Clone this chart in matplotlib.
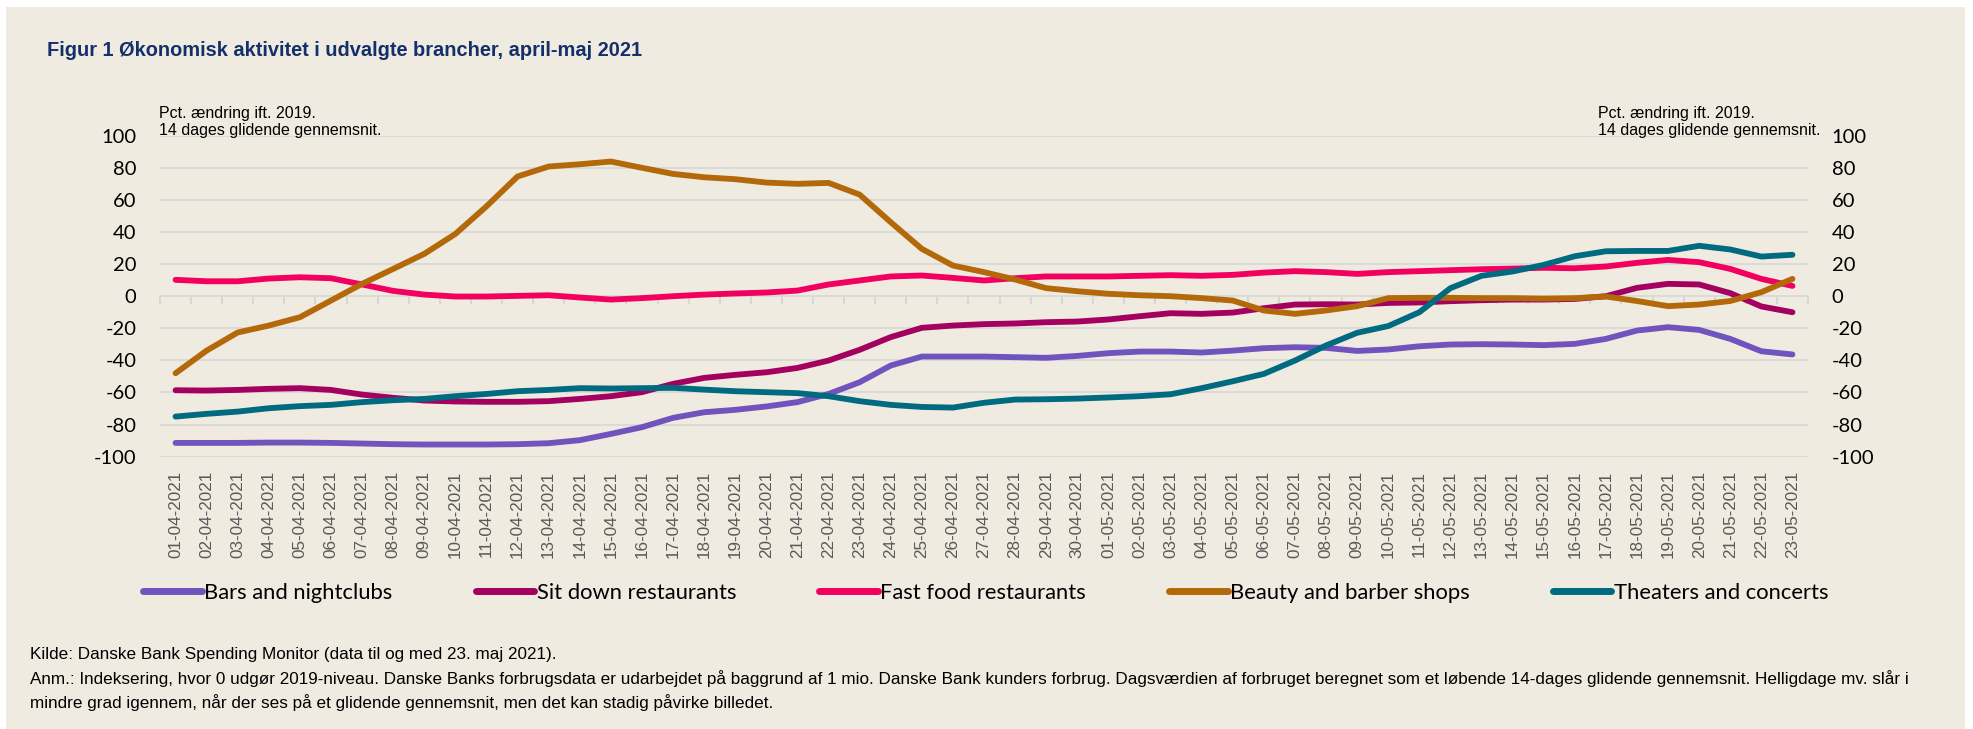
import numpy as np
import pandas as pd
import matplotlib
matplotlib.use('Agg')
import matplotlib.pyplot as plt
from matplotlib.patches import Rectangle
from matplotlib.lines import Line2D

# 1. Data
dates = pd.date_range('2021-04-01', '2021-05-23', freq='D').strftime('%d-%m-%Y').tolist()

bars = [-91.4, -91.4, -91.4, -91.2, -91.2, -91.4, -91.8, -92.2, -92.4, -92.4, -92.4, -92.2, -91.6,
        -89.7, -85.8, -81.6, -75.8, -72.3, -70.8, -68.7, -66.0, -60.9, -53.6, -43.2, -37.6, -37.6, -37.6,
        -38.0, -38.4, -37.2, -35.5, -34.5, -34.5, -35.1, -33.9, -32.4, -31.8, -32.2, -34.1, -33.2,
        -31.2, -30.1, -29.9, -30.1, -30.5, -29.7, -26.6, -21.4, -19.3, -21.0, -26.6, -34.3, -36.3]
sitdown = [-58.6, -58.8, -58.4, -57.7, -57.3, -58.4, -61.3, -63.3, -65.0, -65.6, -65.8, -65.8, -65.4, -64.0,
           -62.3, -59.8, -54.6, -50.9, -49.0, -47.4, -44.7, -40.1, -33.4, -25.5, -19.7, -18.3, -17.4,
           -17.0, -16.2, -15.8, -14.5, -12.5, -10.6, -11.0, -10.2, -7.5, -5.2, -5.0, -5.2, -4.2,
           -3.9, -3.1, -2.5, -2.1, -2.1, -1.7, 0.0, 5.2, 7.7, 7.3, 1.9, -6.4, -10.0]
fastfood = [10.2, 9.3, 9.3, 11.0, 11.8, 11.2, 7.3, 3.3, 1.0, -0.2, -0.2, 0.2, 0.6, -0.8,
            -2.1, -1.2, 0.0, 1.0, 1.7, 2.3, 3.5, 7.3, 9.8, 12.3, 12.9, 11.4, 9.8,
            11.2, 12.3, 12.3, 12.3, 12.7, 13.1, 12.7, 13.3, 14.7, 15.6, 15.0, 13.9, 15.0,
            15.6, 16.2, 16.8, 17.2, 17.7, 17.4, 18.5, 20.8, 22.6, 21.2, 17.0, 10.8, 6.4]
beauty = [-48.0, -33.9, -22.6, -18.3, -13.1, -2.7, 7.7, 17.0, 26.4, 38.8, 56.0, 74.6, 80.8, 82.2,
          83.9, 80.0, 76.2, 74.1, 72.9, 70.8, 70.0, 70.6, 63.3, 46.1, 29.5, 19.1, 15.0,
          10.4, 5.0, 3.1, 1.5, 0.6, 0.0, -1.2, -2.7, -8.9, -11.0, -8.9, -6.2, -1.2,
          -1.0, -1.0, -1.2, -1.2, -1.5, -1.2, -0.2, -3.0, -6.2, -5.2, -3.0, 2.5, 10.8]
theaters = [-75.0, -73.3, -71.9, -69.8, -68.5, -67.7, -66.0, -64.8, -64.0, -62.3, -60.9, -59.2, -58.4, -57.3,
            -57.5, -57.3, -57.1, -58.2, -59.2, -59.8, -60.4, -62.3, -65.4, -67.7, -69.0, -69.4, -66.4,
            -64.4, -64.2, -63.8, -63.1, -62.3, -61.1, -57.3, -53.0, -48.4, -40.1, -30.7, -22.8, -18.6,
            -10.0, 5.0, 12.7, 15.4, 19.5, 24.9, 28.0, 28.2, 28.2, 31.4, 29.1, 24.7, 25.8]

series_names = ['Bars and nightclubs', 'Sit down restaurants', 'Fast food restaurants',
                'Beauty and barber shops', 'Theaters and concerts']
series_values = [bars, sitdown, fastfood, beauty, theaters]
series_colors = ['#7153bd', '#a3005f', '#f20060', '#b3690a', '#006b80']

y_ticks = [100, 80, 60, 40, 20, 0, -20, -40, -60, -80, -100]

# 2. Figure
bg = '#f0ebe0'
fig = plt.figure(figsize=(19.73, 7.29), dpi=100, facecolor='white')
fig.patches.append(Rectangle((6 / 1973, 0), (1965 - 6) / 1973, 1 - 7 / 729,
                             transform=fig.transFigure, facecolor=bg, edgecolor='none', zorder=-10))

ax = fig.add_axes([160 / 1973, 1 - 456.7 / 729, (1808 - 160) / 1973, (456.7 - 135.7) / 729])
ax.set_facecolor('none')

x = np.arange(len(dates))
for name, vals, col in zip(series_names, series_values, series_colors):
    ax.plot(x, vals, color=col, lw=4.2, solid_capstyle='round', solid_joinstyle='round', label=name, zorder=3)

ax.set_xlim(-0.5, len(dates) - 0.5)
ax.set_ylim(-100, 100)
ax.set_yticks(y_ticks)
ax.set_yticklabels([str(v) for v in y_ticks], family='Lato', fontsize=14.5)
ax.grid(axis='y', color='#d9d9d9', lw=1.3, zorder=0)
ax.tick_params(axis='y', length=0, pad=17)
for s in ax.spines.values():
    s.set_visible(False)

ax.set_xticks(x)
ax.set_xticklabels(dates, rotation=90, family='Liberation Sans', fontsize=12.3, color='#595959')
ax.tick_params(axis='x', length=0, pad=10)

# small tick marks on the zero line between categories
sec = ax.secondary_xaxis(0.5)
sec.set_xticks(np.arange(-0.5, len(dates), 1))
sec.set_xticklabels([''] * (len(dates) + 1))
sec.xaxis.set_ticks_position('bottom')
sec.tick_params(axis='x', direction='out', length=6, width=1.3, color='#d4d4d4',
                labelbottom=False, labeltop=False)
for s in sec.spines.values():
    s.set_visible(False)

# right axis, same scale
ax2 = ax.twinx()
ax2.set_ylim(-100, 100)
ax2.set_yticks(y_ticks)
ax2.set_yticklabels([str(v) for v in y_ticks], family='Lato', fontsize=14.5, ha='left')
ax2.tick_params(axis='y', length=0, pad=17)
for s in ax2.spines.values():
    s.set_visible(False)

# 3. Texts
fig.text(47 / 1973, 1 - 51 / 729, 'Figur 1 Økonomisk aktivitet i udvalgte brancher, april-maj 2021',
         family='Liberation Sans', fontweight='bold', fontsize=14.45,
         color='#14306b', va='center', ha='left')

unit_txt = 'Pct. ændring ift. 2019.\n14 dages glidende gennemsnit.'
fig.text(159 / 1973, 1 - 122 / 729, unit_txt, family='Liberation Sans', fontsize=11.5,
         va='center', ha='left', linespacing=1.15)
fig.text(1598 / 1973, 1 - 122 / 729, unit_txt, family='Liberation Sans', fontsize=11.5,
         va='center', ha='left', linespacing=1.15)

handles = [Line2D([], [], color=c, lw=5, solid_capstyle='round') for c in series_colors]
fig.legend(handles, series_names, loc='center', bbox_to_anchor=(986 / 1973, 1 - 593 / 729), ncol=5,
           frameon=False, prop={'family': 'Lato', 'size': 15.8}, handlelength=2.65,
           handletextpad=0.12, columnspacing=3.8)

foot_kw = dict(family='Liberation Sans', fontsize=12.35, va='center', ha='left')
fig.text(30 / 1973, 1 - 655 / 729, 'Kilde: Danske Bank Spending Monitor (data til og med 23. maj 2021).',
         **foot_kw)
fig.text(30 / 1973, 1 - 679 / 729,
         'Anm.: Indeksering, hvor 0 udgør 2019-niveau. Danske Banks forbrugsdata er udarbejdet på baggrund af 1 mio. '
         'Danske Bank kunders forbrug. Dagsværdien af forbruget beregnet som et løbende 14-dages glidende gennemsnit. '
         'Helligdage mv. slår i', **foot_kw)
fig.text(30 / 1973, 1 - 703 / 729,
         'mindre grad igennem, når der ses på et glidende gennemsnit, men det kan stadig påvirke billedet.',
         **foot_kw)

fig.savefig('out.png', dpi=100, facecolor=fig.get_facecolor())
